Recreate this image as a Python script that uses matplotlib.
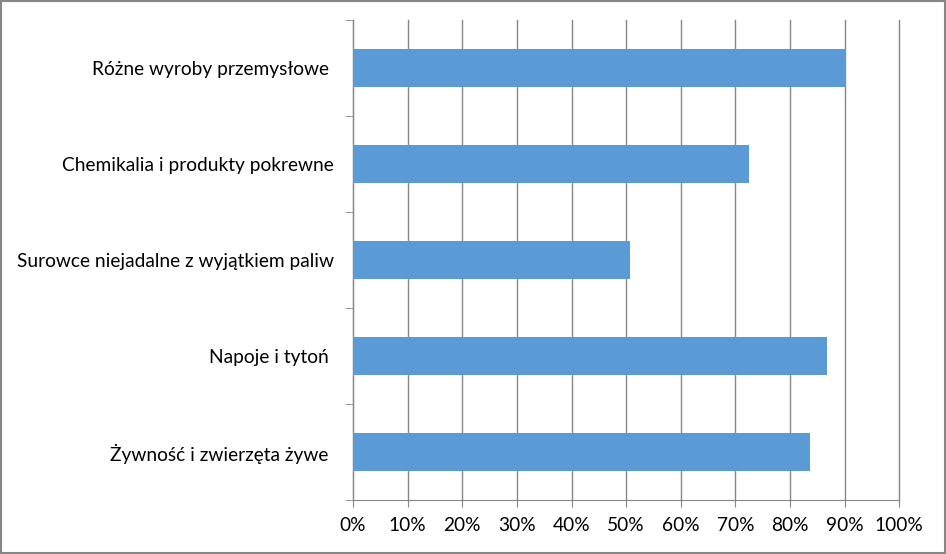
import numpy as np
import matplotlib
matplotlib.use("Agg")
import matplotlib.pyplot as plt
from matplotlib.ticker import FuncFormatter

# data, bottom to top as drawn
categories = ["Żywność i zwierzęta żywe ", "Napoje i tytoń ",
              "Surowce niejadalne z wyjątkiem paliw",
              "Chemikalia i produkty pokrewne", "Różne wyroby przemysłowe "]
shares = [83.6, 86.7, 50.7, 72.5, 90.2]
x_ticks = np.arange(0, 101, 10)

plt.rcParams['font.family'] = ['Lato', 'DejaVu Sans']

fig = plt.figure(figsize=(9.46, 5.54), dpi=100)
ax = fig.add_axes([353 / 946, 1 - 500 / 554, (899.3 - 353) / 946, 480 / 554])

y = np.arange(len(categories))
ax.barh(y, shares, height=0.39, color="#5B9BD5", zorder=3)

ax.set_xlim(0, 100)
ax.set_ylim(-0.5, len(categories) - 0.5)
ax.set_xticks(x_ticks)
ax.xaxis.set_major_formatter(FuncFormatter(lambda v, p: f"{v:.0f}%"))
for g in ax.get_xgridlines():
    g.set_clip_on(False)
ax.grid(axis="x", color="#868686", linewidth=1, zorder=0)
for g in ax.get_xgridlines():
    g.set_clip_on(False)

ax.set_yticks(y)
ax.set_yticklabels(categories)
ax.set_yticks(np.arange(-0.5, len(categories), 1), minor=True)
ax.tick_params(axis="y", which="major", length=0, pad=14, labelsize=13.8)
ax.tick_params(axis="y", which="minor", length=6, color="#868686")
ax.tick_params(axis="x", length=5, color="#868686", labelsize=13.8, pad=7)

for side in ["top", "right"]:
    ax.spines[side].set_visible(False)
ax.spines["left"].set_color("#868686")
ax.spines["bottom"].set_color("#868686")

# outer frame of the chart
fig.patches.append(plt.Rectangle((0.001, 0.001), 0.998, 0.997, transform=fig.transFigure,
                                 fill=False, edgecolor="#868686", linewidth=1.5))

fig.savefig("out.png", dpi=100)
